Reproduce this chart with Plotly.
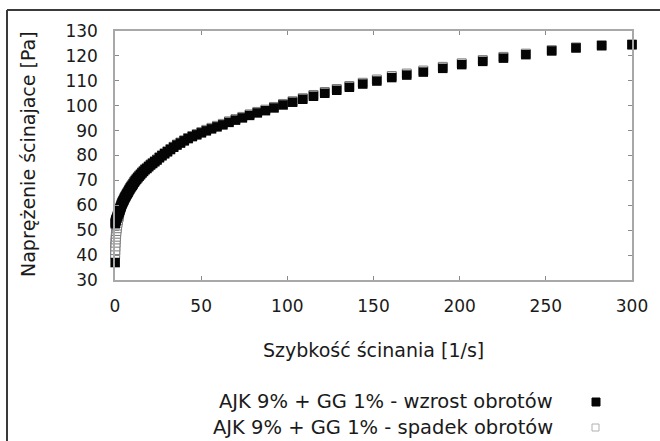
import plotly.graph_objects as go

# ---- data ----
shear_rate = [
    0.1, 0.15, 0.2, 0.3, 0.4, 0.5, 0.65, 0.8, 1.0, 1.2, 1.45, 1.7,
    2.01, 2.13, 2.25, 2.38, 2.51, 2.65, 2.81, 2.97, 3.14, 3.31,
    3.50, 3.70, 3.91, 4.14, 4.37, 4.62, 4.88, 5.16, 5.46, 5.77,
    6.10, 6.44, 6.81, 7.20, 7.61, 8.04, 8.50, 8.99, 9.50, 10.04,
    10.61, 11.22, 11.86, 12.53, 13.25, 14.00, 14.80, 15.65, 16.54, 17.48,
    18.48, 19.53, 20.65, 21.82, 23.07, 24.38, 25.77, 27.24, 28.80, 30.44,
    32.17, 34.01, 35.94, 37.99, 40.16, 42.45, 44.87, 47.43, 50.13, 52.99,
    56.01, 59.20, 62.58, 66.15, 69.92, 73.90, 78.12, 82.57, 87.28, 92.25,
    97.51, 103.07, 108.95, 115.16, 121.72, 128.66, 136.0, 143.75, 151.94, 160.6,
    169.3, 178.9, 190.2, 201.2, 213.4, 225.4, 238.4, 253.4, 267.5, 282.4,
    300.0,
]

stress_up = [  # AJK 9% + GG 1% - wzrost obrotów
    37.0, 52.6, 53.0, 53.4, 53.7, 53.9, 54.2, 54.5, 54.8, 55.3, 55.8, 56.2,
    56.6, 56.9, 57.2, 57.5, 57.7, 58.0, 58.3, 58.6, 58.9, 59.3,
    59.6, 60.0, 60.4, 60.8, 61.1, 61.5, 61.8, 62.2, 62.7, 63.1,
    63.5, 63.9, 64.4, 64.8, 65.3, 65.9, 66.4, 67.0, 67.5, 68.0,
    68.6, 69.3, 69.9, 70.5, 71.1, 71.7, 72.3, 73.0, 73.6, 74.3,
    74.8, 75.5, 76.2, 76.8, 77.5, 78.2, 79.1, 79.9, 80.7, 81.5,
    82.4, 83.3, 84.2, 85.0, 85.9, 86.8, 87.6, 88.3, 89.1, 89.9,
    90.7, 91.5, 92.3, 93.3, 94.2, 95.1, 96.1, 97.1, 98.0, 99.1,
    100.3, 101.4, 102.6, 103.8, 105.0, 106.2, 107.4, 108.7, 109.9, 111.3,
    112.3, 113.5, 115.0, 116.5, 117.8, 119.1, 120.5, 122.0, 123.2, 124.1,
    124.5,
]

stress_down = [  # AJK 9% + GG 1% - spadek obrotów
    40.5, 42.0, 43.5, 45.0, 46.3, 47.4, 48.6, 49.7, 50.8, 51.9, 53.0, 54.0,
    55.1, 55.7, 56.3, 56.9, 57.4, 57.9, 58.3, 58.7, 59.0, 59.4,
    59.8, 60.2, 60.6, 61.0, 61.3, 61.7, 62.0, 62.4, 62.9, 63.3,
    63.7, 64.1, 64.6, 65.0, 65.5, 66.1, 66.6, 67.2, 67.7, 68.2,
    68.8, 69.5, 70.1, 70.7, 71.3, 71.9, 72.5, 73.2, 73.8, 74.5,
    75.0, 75.7, 76.4, 77.0, 77.7, 78.4, 79.3, 80.1, 80.9, 81.7,
    82.6, 83.5, 84.4, 85.2, 86.1, 87.0, 87.8, 88.6, 89.4, 90.3,
    91.1, 91.9, 92.7, 93.7, 94.6, 95.5, 96.5, 97.5, 98.4, 99.5,
    100.7, 101.8, 103.0, 104.3, 105.5, 106.7, 107.9, 109.2, 110.5, 111.9,
    112.9, 114.1, 115.6, 117.0, 118.3, 119.6, 120.9, 122.3, 123.4, 124.3,
    124.6,
]

series_names = [
    "AJK 9% + GG 1% - wzrost obrotów",
    "AJK 9% + GG 1% - spadek obrotów",
]
x_title = "Szybkość ścinania [1/s]"
y_title = "Naprężenie ścinajace [Pa]"
x_ticks = [0, 50, 100, 150, 200, 250, 300]
y_ticks = [30, 40, 50, 60, 70, 80, 90, 100, 110, 120, 130]

# ---- layout geometry (pixels) ----
W, H = 660, 441
ML, MR, MT, MB = 115, 28, 31, 161
PW, PH = W - ML - MR, H - MT - MB


def px(xp):
    return (xp - ML) / PW


def py(yp):
    return (H - MB - yp) / PH


FONT = "DejaVu Sans"
TXT = "#1a1a1a"
AX = "#a8a8a8"

fig = go.Figure()
fig.add_trace(go.Scatter(
    x=shear_rate, y=stress_down, mode="markers", name=series_names[1],
    marker=dict(symbol="square", size=9, color="white",
                line=dict(color="#7a7a7a", width=1)),
    cliponaxis=False, showlegend=False,
))
fig.add_trace(go.Scatter(
    x=shear_rate, y=stress_up, mode="markers", name=series_names[0],
    marker=dict(symbol="square", size=9.5, color="#050505",
                line=dict(color="#050505", width=0)),
    cliponaxis=False, showlegend=False,
))

axis_common = dict(
    showline=True, linecolor=AX, linewidth=1.5, mirror="ticks",
    ticks="inside", ticklen=4, tickcolor="#8a8a8a", tickwidth=1,
    showgrid=False, zeroline=False,
    tickfont=dict(family=FONT, size=17, color=TXT),
)
fig.update_xaxes(range=[0, 300], tickvals=x_ticks, ticklabelstandoff=10,
                 **axis_common)
fig.update_yaxes(range=[30, 130], tickvals=y_ticks, ticklabelstandoff=12,
                 **axis_common)

annotations = [
    dict(text=x_title, x=0.5, y=py(349.5), xref="paper", yref="paper",
         xanchor="center", yanchor="middle", showarrow=False,
         font=dict(family=FONT, size=19, color=TXT)),
    dict(text=y_title, x=px(28), y=py(154), xref="paper", yref="paper",
         xanchor="center", yanchor="middle", showarrow=False, textangle=-90,
         font=dict(family=FONT, size=19, color=TXT)),
    dict(text=series_names[0], x=px(555), y=py(402), xref="paper", yref="paper",
         xanchor="right", yanchor="middle", showarrow=False,
         font=dict(family=FONT, size=19.5, color=TXT)),
    dict(text=series_names[1], x=px(555), y=py(427), xref="paper", yref="paper",
         xanchor="right", yanchor="middle", showarrow=False,
         font=dict(family=FONT, size=19.5, color=TXT)),
]

shapes = [
    # outer frame (top and left edges)
    dict(type="line", xref="paper", yref="paper", x0=px(7), x1=px(W + 5),
         y0=py(10), y1=py(10), line=dict(color="#3a3a3a", width=2)),
    dict(type="line", xref="paper", yref="paper", x0=px(7), x1=px(7),
         y0=py(10), y1=py(H + 5), line=dict(color="#3a3a3a", width=2)),
    # legend symbols
    dict(type="rect", xref="paper", yref="paper",
         x0=px(592), x1=px(600), y0=py(406), y1=py(398),
         fillcolor="#050505", line=dict(color="#050505", width=1)),
    dict(type="rect", xref="paper", yref="paper",
         x0=px(592), x1=px(599), y0=py(431), y1=py(424),
         fillcolor="white", line=dict(color="#b0b0b0", width=1)),
]

fig.update_layout(
    width=W, height=H,
    margin=dict(l=ML, r=MR, t=MT, b=MB, pad=0),
    paper_bgcolor="white", plot_bgcolor="white",
    annotations=annotations, shapes=shapes, showlegend=False,
)

fig.write_html(
    "out.html",
    config={"displayModeBar": False},
    post_script="document.body.style.margin='0px';"
                "document.body.style.overflow='hidden';",
)
